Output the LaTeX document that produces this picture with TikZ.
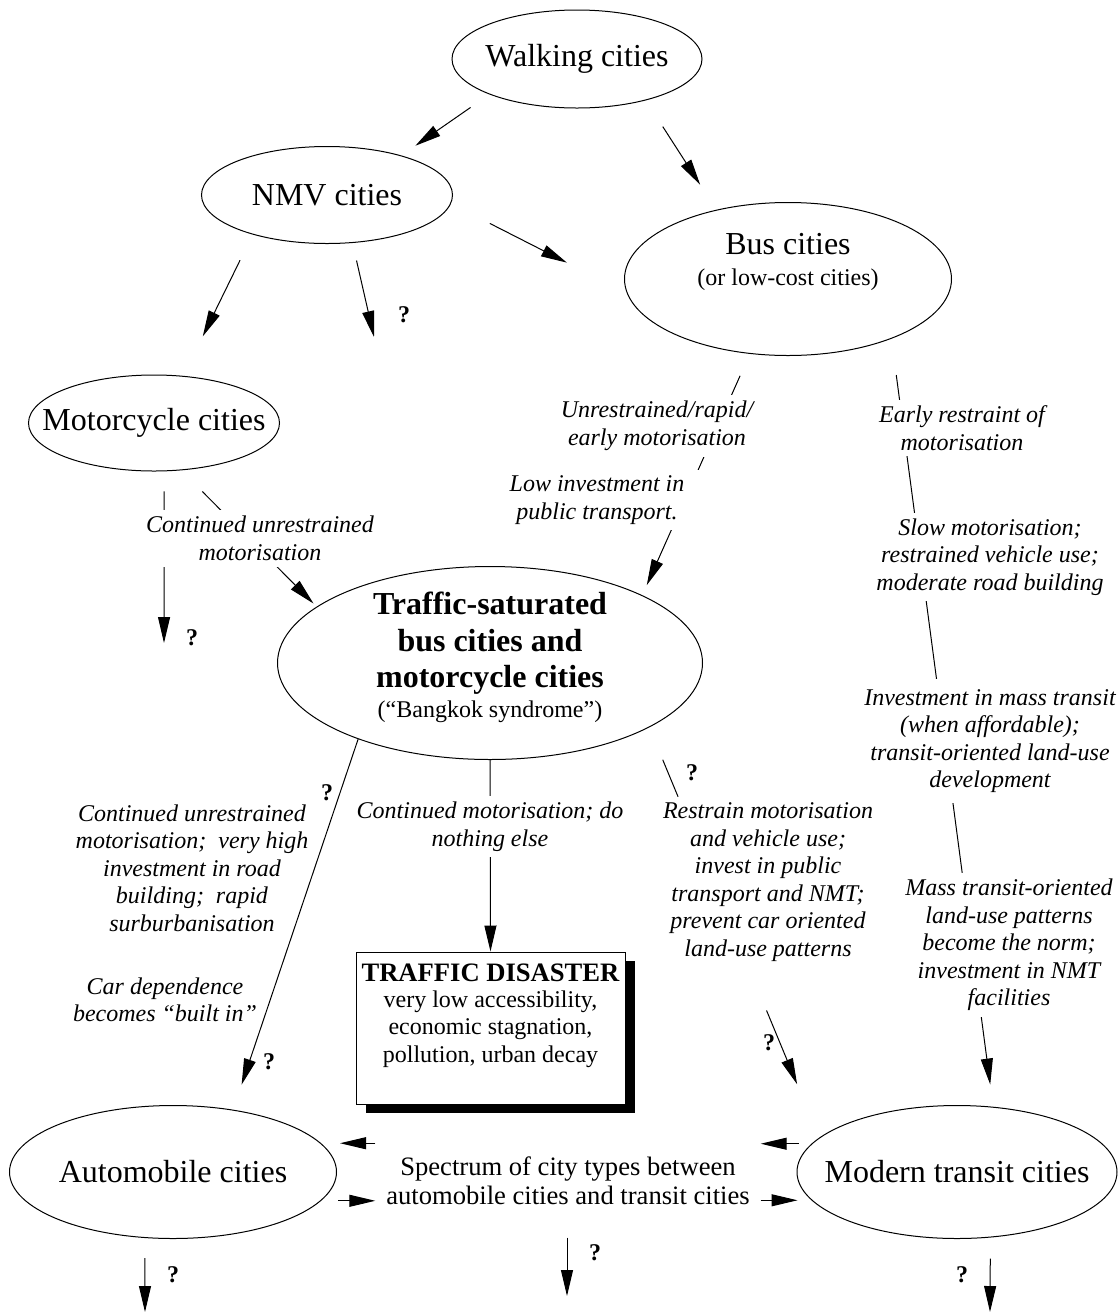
\documentclass[tikz,border=0pt]{standalone}
\usepackage{fontspec}
\setmainfont{Liberation Serif}
\usetikzlibrary{shapes.geometric,arrows.meta,shadows}

\begin{document}
\begin{tikzpicture}[x=0.5pt,y=-0.5pt,line width=0.5pt,
        city/.style={draw,ellipse,inner sep=0pt},
        citytext/.style={font=\fontsize{16}{18.25}\selectfont,inner sep=0pt,align=center},
        lab/.style={font=\fontsize{12}{13.75}\selectfont\itshape,align=center,inner sep=3pt},
        cut/.style={lab,fill=white},
        qm/.style={font=\fontsize{12}{14}\selectfont\bfseries,inner sep=0pt},
        arr/.style={-{Triangle[length=13pt,width=6pt]}}]
        \useasboundingbox (0,0) rectangle (1119,1313);

        % city types
        \node[city,minimum width=125pt,minimum height=49pt,label={[citytext]center:Walking cities}] (walk) at (577,59) {};
        \node[city,minimum width=125.5pt,minimum height=48.5pt,label={[citytext]center:NMV cities}] (nmv) at (327,195) {};
        \node[city,minimum width=163.5pt,minimum height=76.5pt,
            label={[citytext,yshift=8.5pt]center:{Bus cities\\[-2.3pt]{\fontsize{12}{14}\selectfont (or low-cost cities)}}}] (bus) at (788,279) {};
        \node[city,minimum width=125.5pt,minimum height=48pt,label={[citytext]center:Motorcycle cities}] (moto) at (154,423) {};
        \node[city,minimum width=212.5pt,minimum height=96.5pt,
            label={[citytext,font=\fontsize{16}{18.25}\selectfont\bfseries,yshift=2.75pt]center:{Traffic-saturated\\bus cities and\\motorcycle cities\\[-3.25pt]{\fontsize{12}{14}\selectfont\mdseries (``Bangkok syndrome'')}}}] (traffic) at (490,663) {};
        \node[city,minimum width=163.5pt,minimum height=66.5pt,label={[citytext]center:Automobile cities}] (automobile) at (173,1172) {};
        \node[city,minimum width=160pt,minimum height=66.5pt,label={[citytext]center:Modern transit cities}] (transit) at (957,1172) {};

        \node[draw,fill=white,minimum width=134.5pt,minimum height=76pt,
            drop shadow={fill=black,opacity=1,shadow xshift=5pt,shadow yshift=-4.5pt},
            label={[font=\fontsize{12}{13.75}\selectfont,align=center,inner sep=0pt,yshift=6pt]center:{{\fontsize{13.3}{13.75}\selectfont\bfseries TRAFFIC DISASTER}\\[-1pt]very low accessibility,\\economic stagnation,\\pollution, urban decay}}] (dis) at (490.5,1028) {};

        \node[font=\fontsize{13.3}{14.5}\selectfont,align=center,inner xsep=5.25pt] (spec) at (568,1180.5) {Spectrum of city types between\\automobile cities and transit cities};

        \coordinate (nmvend) at (374,337);
        \coordinate (motoend) at (164,643);
        \coordinate (autoend) at (145,1312);
        \coordinate (specend) at (567,1296);
        \coordinate (transitend) at (990,1312);

        % connectors
        \draw[arr,shorten <=11.4pt,shorten >=8.5pt] (walk.202) -- (nmv.28);
        \draw[arr,shorten <=15.6pt,shorten >=14.9pt] (walk.329) -- (bus.136);
        \draw[arr,shorten <=21.8pt,shorten >=33.6pt] (nmv.356) -- (bus.185);
        \draw[arr,shorten <=14.3pt,shorten >=22pt] (nmv.208) -- (moto.58);
        \draw[arr,shorten <=9pt] (nmv.298) -- (nmvend);
        \draw[arr,shorten <=10pt] (moto.282) -- (motoend);
        \draw[arr,shorten <=14.9pt,shorten >=2.2pt] (moto.300) -- (traffic.162);
        \draw[arr,shorten <=12pt,shorten >=5.5pt] (bus.243) -- (traffic.24);
        \draw[arr,shorten <=18.3pt,shorten >=11.2pt] (bus.330) -- (transit.61);
        \draw[arr,shorten >=13.2pt] (traffic.210) -- (automobile.46);
        \draw[arr] (traffic.south) -- (dis.north);
        \draw[shorten <=17.5pt,shorten >=184.5pt] (traffic.338) -- (transit.166);
        \draw[arr,shorten <=153.2pt,shorten >=28.9pt] (traffic.338) -- (transit.166);
        \draw[arr,shorten >=9.5pt] (spec.west |- automobile.11) -- (automobile.11);
        \draw[arr,shorten <=8.5pt] (automobile.-11) -- (spec.west |- automobile.-11);
        \draw[arr,shorten <=6.5pt] (transit.169) -- (spec.east |- transit.169);
        \draw[arr,shorten >=7pt] (spec.east |- transit.191) -- (transit.191);
        \draw[arr,shorten <=10pt] (automobile.247) -- (autoend);
        \draw[arr,shorten <=13pt] (specend |- spec.south) -- (specend);
        \draw[arr,shorten <=10.5pt] (transit.297) -- (transitend);

        % labels on the connectors
        \node[cut] (motolab) at (260,538.5) {Continued unrestrained\\motorisation};
        \node[cut] (rapidlab) at (657,426) {Unrestrained/rapid/\\early motorisation};
        \node[cut,inner xsep=8pt] (lowlab) at (597,500) {Low investment in\\public transport.};
        \node[cut] (earlylab) at (962,428) {Early restraint of\\motorisation};
        \node[cut] (slowlab) at (990,557) {Slow motorisation;\\restrained vehicle use;\\moderate road building};
        \node[cut,inner ysep=5pt] (masslab) at (990,741) {Investment in mass transit\\(when affordable);\\transit-oriented land-use\\development};
        \node[cut] (normlab) at (1009,945) {Mass transit-oriented\\land-use patterns\\become the norm;\\investment in NMT\\facilities};
        \node[lab] (roadlab) at (192,868) {Continued unrestrained\\motorisation;\ \ very high\\investment in road\\building;\ \ rapid\\surburbanisation};
        \node[lab] (carlab) at (165,1000) {Car dependence\\becomes ``built in''};
        \node[cut] (nothinglab) at (490,826.5) {Continued motorisation; do\\nothing else};
        \node[lab] (restrainlab) at (768,882) {Restrain motorisation\\and vehicle use;\\invest in public\\transport and NMT;\\prevent car oriented\\land-use patterns};

        \foreach \p [count=\i] in {(404,315),(192,638),(327,793),(269,1062),(692,773),(769,1043),(173,1275),(595,1253),(962,1275)}
            \node[qm] (q\i) at \p {?};
\end{tikzpicture}
\end{document}
